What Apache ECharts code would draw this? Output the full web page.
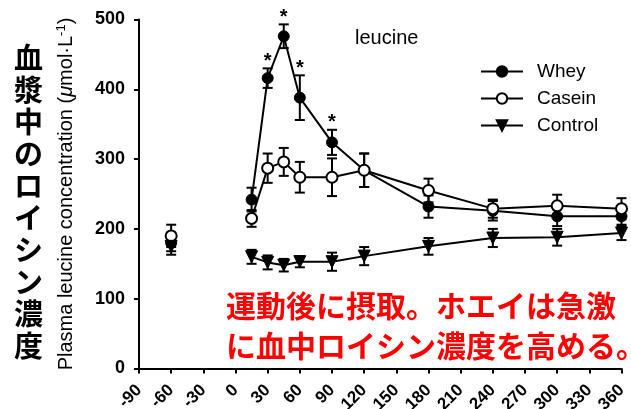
<!DOCTYPE html>
<html>
<head>
<meta charset="utf-8">
<script src="https://cdn.jsdelivr.net/npm/echarts@6/dist/echarts.min.js"></script>
<style>html,body{margin:0;padding:0;background:#fff}#c{width:631px;height:409px}</style>
</head>
<body>
<div id="c"></div>
<script>
// ---- data ----
const times      = [-60, 15, 30, 45, 60, 90, 120, 180, 240, 300, 360];
const whey       = [180, 242, 416, 476, 388, 324, 284, 232, 226, 218, 218];
const wheyErr    = [12, 17, 14, 17, 32, 18, 24, 16, 14, 14, 12];
const casein     = [190, 215, 287, 296, 274, 274, 284, 255, 229, 233, 229];
const caseinErr  = [16, 12, 21, 20, 22, 27, 24, 17, 13, 16, 15];
const control    = [175, 160, 152, 148, 153, 153, 161, 175, 187, 188, 194];
const controlErr = [12, 10, 10, 9, 8, 13, 13, 12, 13, 12, 10];
const sigTimes   = [30, 45, 60, 90];
const seriesNames = ['Whey', 'Casein', 'Control'];
const xMin = -90, xMax = 360, xStep = 30;
const yMin = 0, yMax = 500, yStep = 100;
const yTitleJa = '血漿中のロイシン濃度';
const noteLines = ['運動後に摂取。ホエイは急激', 'に血中ロイシン濃度を高める。'];
const panelTitle = 'leucine';

const FONT = '"Liberation Sans", Arial, Helvetica, sans-serif';
const JA = '"Noto Sans CJK JP", sans-serif';

function lineData(vals) {
  const d = times.map((t, i) => [t, vals[i]]);
  d.splice(1, 0, [0, '-']); // gap between baseline and post-ingestion points
  return d;
}
function errData(vals, errs) {
  return times.map((t, i) => [t, vals[i], errs[i]]);
}
function errRender(params, api) {
  const x = api.value(0), v = api.value(1), e = api.value(2);
  const top = api.coord([x, v + e]);
  const bot = api.coord([x, v - e]);
  const hw = 5;
  const st = { stroke: '#000', lineWidth: 2 };
  return {
    type: 'group',
    children: [
      { type: 'line', shape: { x1: top[0], y1: top[1], x2: bot[0], y2: bot[1] }, style: st },
      { type: 'line', shape: { x1: top[0] - hw, y1: top[1], x2: top[0] + hw, y2: top[1] }, style: st },
      { type: 'line', shape: { x1: bot[0] - hw, y1: bot[1], x2: bot[0] + hw, y2: bot[1] }, style: st }
    ]
  };
}
const sigData = sigTimes.map(t => { const i = times.indexOf(t); return [t, whey[i] + wheyErr[i]]; });

const chart = echarts.init(document.getElementById('c'), null, { renderer: 'canvas' });
chart.setOption({
  animation: false,
  backgroundColor: '#fff',
  grid: { left: 139, right: 9.5, top: 19.5, bottom: 40.5, containLabel: false, outerBoundsMode: 'none' },
  title: {
    text: panelTitle, left: 355, top: 28, padding: 0,
    textStyle: { fontFamily: FONT, fontSize: 20, fontWeight: 'normal', color: '#000' }
  },
  legend: {
    orient: 'vertical', left: 480, top: 62, padding: 0, itemWidth: 42, itemHeight: 13, itemGap: 8,
    data: seriesNames,
    textStyle: { fontFamily: FONT, fontSize: 19, color: '#000', padding: [0, 0, 0, 9] }
  },
  xAxis: {
    type: 'value', min: xMin, max: xMax, interval: xStep,
    splitLine: { show: false },
    axisLine: { show: true, onZero: false, lineStyle: { color: '#000', width: 2 } },
    axisTick: { show: true, length: 5, lineStyle: { color: '#000', width: 2 } },
    axisLabel: { rotate: 45, margin: 19, fontFamily: FONT, fontSize: 17, color: '#000', fontWeight: 'bold' }
  },
  yAxis: {
    type: 'value', min: yMin, max: yMax, interval: yStep,
    splitLine: { show: false },
    axisLine: { show: true, onZero: false, lineStyle: { color: '#000', width: 2 } },
    axisTick: { show: true, length: 5, lineStyle: { color: '#000', width: 2 } },
    axisLabel: { margin: 14, fontFamily: FONT, fontSize: 18, color: '#000', fontWeight: 'bold' },
    name: '{t|Plasma leucine concentration (}{u|μ}{t|mol·L}{s|-1}{t|)}',
    nameLocation: 'middle', nameGap: 62,
    nameTextStyle: {
      fontFamily: FONT, fontSize: 20, color: '#000',
      rich: {
        t: { fontFamily: FONT, fontSize: 20, color: '#000', lineHeight: 22 },
        u: { fontFamily: FONT, fontSize: 20, color: '#000', fontStyle: 'italic', lineHeight: 22 },
        s: { fontFamily: FONT, fontSize: 13, color: '#000', verticalAlign: 'top', lineHeight: 22 }
      }
    }
  },
  graphic: [
    {
      type: 'text', left: 14, top: 42,
      style: {
        text: yTitleJa.split('').join('\n'), font: 'bold 29px ' + JA, fill: '#000',
        lineHeight: 32, textAlign: 'center'
      }
    },
    {
      type: 'text', left: 226, top: 286,
      style: {
        text: noteLines.join('\n'), font: 'bold 30px ' + JA, fill: '#ff0000', lineHeight: 40
      }
    }
  ],
  series: [
    { name: 'err-whey', type: 'custom', renderItem: errRender, data: errData(whey, wheyErr), z: 1, silent: true },
    { name: 'err-casein', type: 'custom', renderItem: errRender, data: errData(casein, caseinErr), z: 1, silent: true },
    { name: 'err-control', type: 'custom', renderItem: errRender, data: errData(control, controlErr), z: 1, silent: true },
    {
      name: 'Whey', type: 'line', data: lineData(whey), z: 3,
      symbol: 'circle', symbolSize: 11, showAllSymbol: true,
      lineStyle: { color: '#000', width: 2 },
      itemStyle: { color: '#000', borderColor: '#000', borderWidth: 1 }
    },
    {
      name: 'Casein', type: 'line', data: lineData(casein), z: 3,
      symbol: 'circle', symbolSize: 11, showAllSymbol: true,
      lineStyle: { color: '#000', width: 2 },
      itemStyle: { color: '#fff', borderColor: '#000', borderWidth: 2 }
    },
    {
      name: 'Control', type: 'line', data: lineData(control), z: 3,
      symbol: 'triangle', symbolRotate: 180, symbolSize: 12, showAllSymbol: true,
      lineStyle: { color: '#000', width: 2 },
      itemStyle: { color: '#000', borderColor: '#000', borderWidth: 1 }
    },
    {
      name: 'sig', type: 'custom', data: sigData, z: 4, silent: true,
      renderItem: function (params, api) {
        const p = api.coord([api.value(0), api.value(1)]);
        return { type: 'text', style: { text: '*', x: p[0], y: p[1] + 3, font: 'bold 20px ' + FONT, fill: '#000', textAlign: 'center', textVerticalAlign: 'bottom' } };
      }
    }
  ]
});
</script>
</body>
</html>
